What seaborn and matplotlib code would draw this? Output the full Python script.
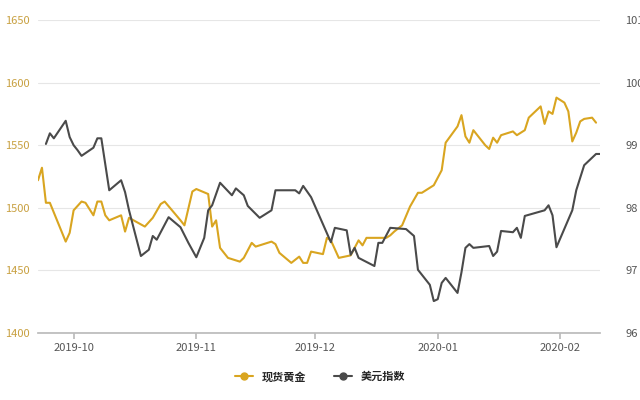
import matplotlib
matplotlib.use("Agg")
import matplotlib.pyplot as plt
from matplotlib.lines import Line2D
import pandas as pd
import seaborn as sns

gold_dates = ["2019-09-22", "2019-09-23", "2019-09-24", "2019-09-25", "2019-09-29", "2019-09-30",
              "2019-10-01", "2019-10-03", "2019-10-04", "2019-10-06", "2019-10-07", "2019-10-08",
              "2019-10-09", "2019-10-10", "2019-10-13", "2019-10-14", "2019-10-15", "2019-10-19",
              "2019-10-21", "2019-10-23", "2019-10-24", "2019-10-28", "2019-10-29", "2019-10-31",
              "2019-11-01", "2019-11-04", "2019-11-05", "2019-11-06", "2019-11-07", "2019-11-09",
              "2019-11-12", "2019-11-13", "2019-11-15", "2019-11-16", "2019-11-20", "2019-11-21",
              "2019-11-22", "2019-11-25", "2019-11-27", "2019-11-28", "2019-11-29", "2019-11-30",
              "2019-12-03", "2019-12-04", "2019-12-05", "2019-12-07", "2019-12-10", "2019-12-11",
              "2019-12-12", "2019-12-13", "2019-12-14", "2019-12-19", "2019-12-20", "2019-12-21",
              "2019-12-23", "2019-12-25", "2019-12-27", "2019-12-28", "2019-12-31", "2020-01-02",
              "2020-01-03", "2020-01-06", "2020-01-07", "2020-01-08", "2020-01-09", "2020-01-10",
              "2020-01-13", "2020-01-14", "2020-01-15", "2020-01-16", "2020-01-17", "2020-01-20",
              "2020-01-21", "2020-01-23", "2020-01-24", "2020-01-27", "2020-01-28", "2020-01-29",
              "2020-01-30", "2020-01-31", "2020-02-02", "2020-02-03", "2020-02-04", "2020-02-05",
              "2020-02-06", "2020-02-07", "2020-02-09", "2020-02-10"]
gold_values = [1522, 1532, 1504, 1504, 1473, 1480, 1498, 1505, 1504, 1494, 1505, 1505,
               1494, 1490, 1494, 1481, 1492, 1485, 1492, 1503, 1505, 1490, 1486, 1513,
               1515, 1511, 1485, 1490, 1468, 1460, 1457, 1460, 1472, 1469, 1473, 1471,
               1464, 1456, 1461, 1456, 1456, 1465, 1463, 1476, 1474, 1460, 1462, 1468,
               1474, 1470, 1476, 1476, 1478, 1481, 1486, 1501, 1512, 1512, 1518, 1530,
               1552, 1565, 1574, 1557, 1552, 1562, 1550, 1547, 1556, 1552, 1558, 1561,
               1558, 1562, 1572, 1581, 1567, 1577, 1575, 1588, 1584, 1577, 1553, 1560,
               1569, 1571, 1572, 1568]

usd_dates = ["2019-09-24", "2019-09-25", "2019-09-26", "2019-09-29", "2019-09-30", "2019-10-01",
             "2019-10-02", "2019-10-03", "2019-10-06", "2019-10-07", "2019-10-08", "2019-10-10",
             "2019-10-13", "2019-10-14", "2019-10-15", "2019-10-18", "2019-10-20", "2019-10-21",
             "2019-10-22", "2019-10-25", "2019-10-28", "2019-10-30", "2019-11-01", "2019-11-03",
             "2019-11-04", "2019-11-05", "2019-11-07", "2019-11-10", "2019-11-11", "2019-11-13",
             "2019-11-14", "2019-11-17", "2019-11-20", "2019-11-21", "2019-11-26", "2019-11-27",
             "2019-11-28", "2019-11-30", "2019-12-05", "2019-12-06", "2019-12-09", "2019-12-10",
             "2019-12-11", "2019-12-12", "2019-12-16", "2019-12-17", "2019-12-18", "2019-12-20",
             "2019-12-24", "2019-12-26", "2019-12-27", "2019-12-30", "2019-12-31", "2020-01-01",
             "2020-01-02", "2020-01-03", "2020-01-06", "2020-01-07", "2020-01-08", "2020-01-09",
             "2020-01-10", "2020-01-14", "2020-01-15", "2020-01-16", "2020-01-17", "2020-01-20",
             "2020-01-21", "2020-01-22", "2020-01-23", "2020-01-28", "2020-01-29", "2020-01-30",
             "2020-01-31", "2020-02-04", "2020-02-05", "2020-02-07", "2020-02-10", "2020-02-11"]
usd_values = [99.02, 99.19, 99.11, 99.39, 99.13, 99.00, 98.92, 98.83, 98.96, 99.11, 99.11, 98.28,
              98.44, 98.25, 97.96, 97.23, 97.33, 97.55, 97.49, 97.85, 97.69, 97.44, 97.21, 97.52,
              97.96, 98.04, 98.40, 98.20, 98.31, 98.20, 98.03, 97.84, 97.96, 98.28, 98.28, 98.23,
              98.35, 98.17, 97.45, 97.68, 97.64, 97.25, 97.36, 97.20, 97.07, 97.44, 97.44, 97.68,
              97.66, 97.55, 97.01, 96.77, 96.51, 96.54, 96.80, 96.88, 96.64, 96.97, 97.36, 97.42,
              97.36, 97.39, 97.23, 97.30, 97.63, 97.61, 97.68, 97.52, 97.87, 97.96, 98.04, 97.88,
              97.37, 97.96, 98.28, 98.68, 98.86, 98.86]

tick_dates = ["2019-10-01", "2019-11-01", "2019-12-01", "2020-01-01", "2020-02-01"]
tick_labels = ["2019-10", "2019-11", "2019-12", "2020-01", "2020-02"]

GOLD = "#d9a520"
USD = "#4a4a4a"

sns.set_theme(style="white")
plt.rcParams["font.family"] = ["Noto Sans CJK SC", "DejaVu Sans"]

gold_df = pd.DataFrame({"date": pd.to_datetime(gold_dates), "value": gold_values})
usd_df = pd.DataFrame({"date": pd.to_datetime(usd_dates), "value": usd_values})

fig = plt.figure(figsize=(6.4, 4), dpi=100)
ax = fig.add_axes([38 / 640, 1 - 333 / 400, 562 / 640, 313 / 400])
ax2 = ax.twinx()

sns.lineplot(data=gold_df, x="date", y="value", ax=ax, color=GOLD, linewidth=1.5)
sns.lineplot(data=usd_df, x="date", y="value", ax=ax2, color=USD, linewidth=1.5)

ax.set_xlim(pd.Timestamp("2019-09-22"), pd.Timestamp("2020-02-11"))
ax.set_ylim(1400, 1650)
ax2.set_ylim(96, 101)
ax.set_yticks(range(1400, 1651, 50))
ax2.set_yticks(range(96, 102))
ax.set_xticks(pd.to_datetime(tick_dates))
ax.set_xticklabels(tick_labels)

ax.grid(axis="y", color="#e6e6e6", linewidth=0.8)
for a in (ax, ax2):
    a.set_xlabel("")
    a.set_ylabel("")
    for s in a.spines.values():
        s.set_visible(False)
ax.spines["bottom"].set_visible(True)
ax.spines["bottom"].set_color("#bbbbbb")
ax.tick_params(axis="x", colors="#555555", labelsize=8, length=4, bottom=True, color="#bbbbbb")
ax.tick_params(axis="y", colors="#c8a040", labelsize=8, length=0, pad=6)
ax2.tick_params(axis="y", colors="#555555", labelsize=8, length=0, pad=18)

handles = [Line2D([0], [0], color=GOLD, marker="o", markersize=5, linewidth=1.5),
           Line2D([0], [0], color=USD, marker="o", markersize=5, linewidth=1.5)]
fig.legend(handles, ["现货黄金", "美元指数"], loc="center", bbox_to_anchor=(0.5, 0.058),
           ncol=2, frameon=False, prop={"size": 8, "weight": "bold"},
           handlelength=1.6, columnspacing=2.5)

fig.savefig("out.png", dpi=100)
